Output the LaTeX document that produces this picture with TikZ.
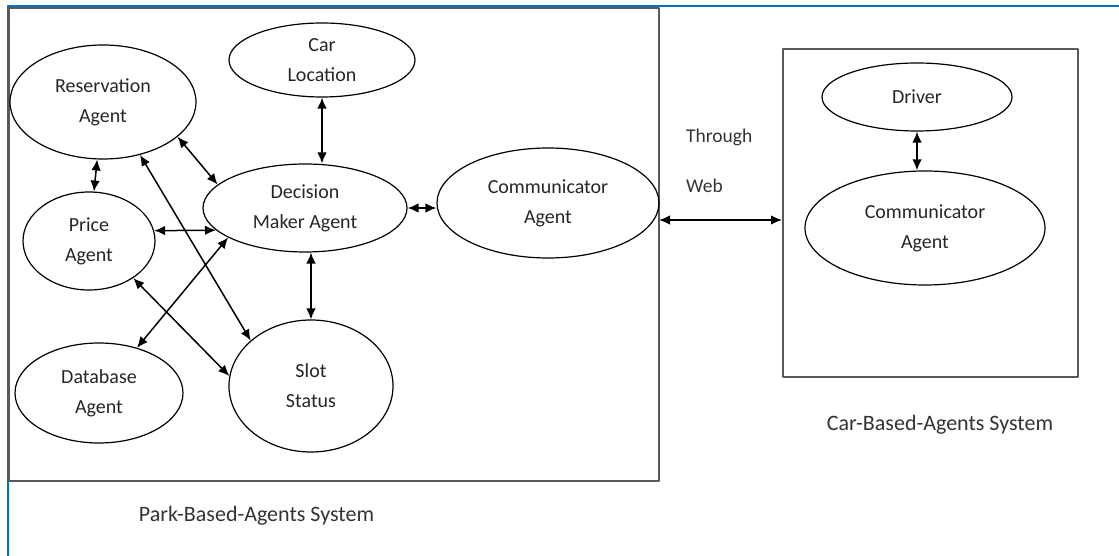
\documentclass[tikz,border=0pt]{standalone}
\usepackage{fontspec}
\setmainfont{Carlito}
\usepackage{tikz}
\usetikzlibrary{arrows.meta}
\usetikzlibrary{shapes}

\begin{document}
\begin{tikzpicture}[>={Latex[length=11bp,width=9.5bp]},line join=bevel,
  agent/.style={draw,ellipse,inner sep=0pt,line width=1.2bp,align=center,
    font=\fontsize{20bp}{30bp}\selectfont,text=black!85},
  sysbox/.style={draw=black!65,line width=2bp,rectangle,inner sep=0pt},
  link/.style={black,<->,line width=1.5bp},
  caption/.style={inner sep=0pt,font=\fontsize{22bp}{26bp}\selectfont,text=black!80},
  webtext/.style={inner sep=0pt,anchor=west,font=\fontsize{19.5bp}{24bp}\selectfont,text=black!80}]
\useasboundingbox (0bp,0bp) rectangle (1119bp,556bp);
%%
\draw [line width=2.5bp,draw={rgb,255:red,0;green,112;blue,192}] (8bp,0bp) -- (8bp,550bp) -- (1119bp,550bp);
\node (node_park) at (334bp,311.5bp) [sysbox,minimum width=650bp,minimum height=473bp] {};
\node (node_carbox) at (930.5bp,343bp) [sysbox,minimum width=295bp,minimum height=328bp] {};
%
\node (node_res) at (103bp,454bp) [agent,minimum width=186bp,minimum height=114bp] {Reservation\\Agent};
\node (node_carloc) at (322bp,496bp) [agent,minimum width=186bp,minimum height=74bp] {Car\\Location};
\node (node_dec) at (305bp,348bp) [agent,minimum width=204bp,minimum height=88bp] {Decision\\Maker Agent};
\node (node_price) at (89bp,315bp) [agent,minimum width=132bp,minimum height=98bp] {Price\\Agent};
\node (node_db) at (99bp,163bp) [agent,minimum width=168bp,minimum height=100bp] {Database\\Agent};
\node (node_slot) at (311bp,170bp) [agent,minimum width=164bp,minimum height=132bp] {Slot\\Status};
\node (node_comm) at (548bp,353bp) [agent,minimum width=222bp,minimum height=110bp] {Communicator\\Agent};
\node (node_driver) at (917bp,459bp) [agent,minimum width=190bp,minimum height=68bp] {Driver};
\node (node_carcomm) at (925bp,328bp) [agent,minimum width=240bp,minimum height=114bp] {Communicator\\Agent};
%
\node (node_through) at (686bp,419bp) [webtext] {Through};
\node (node_web) at (686bp,370bp) [webtext] {Web};
\node (node_parklabel) at (256.5bp,40bp) [caption] {Park-Based-Agents System};
\node (node_carlabel) at (940bp,131bp) [caption] {Car-Based-Agents System};
\coordinate (web_l) at (659bp,336bp);
%
\draw [link] (node_res) -- (node_price);
\draw [link] (node_carloc.south) -- (node_carloc.south |- node_dec.north);
\draw [link] (node_res.-25) -- (node_dec.165);
\draw [link] (node_res.-55) -- (node_slot.143);
\draw [link] (node_price.9) -- (node_dec.194);
\draw [link] (node_dec.201) -- (node_db.50);
\draw [link] (node_price.-40) -- (node_slot.173);
\draw [link] (node_slot.north |- node_dec.south) -- (node_slot.north);
\draw [link] (node_dec.east) -- (node_dec.east -| node_comm.west);
\draw [link] (web_l) -- (web_l -| node_carbox.west);
\draw [link] (node_driver.south) -- (node_driver.south |- node_carcomm.north);
%
\end{tikzpicture}
\end{document}
